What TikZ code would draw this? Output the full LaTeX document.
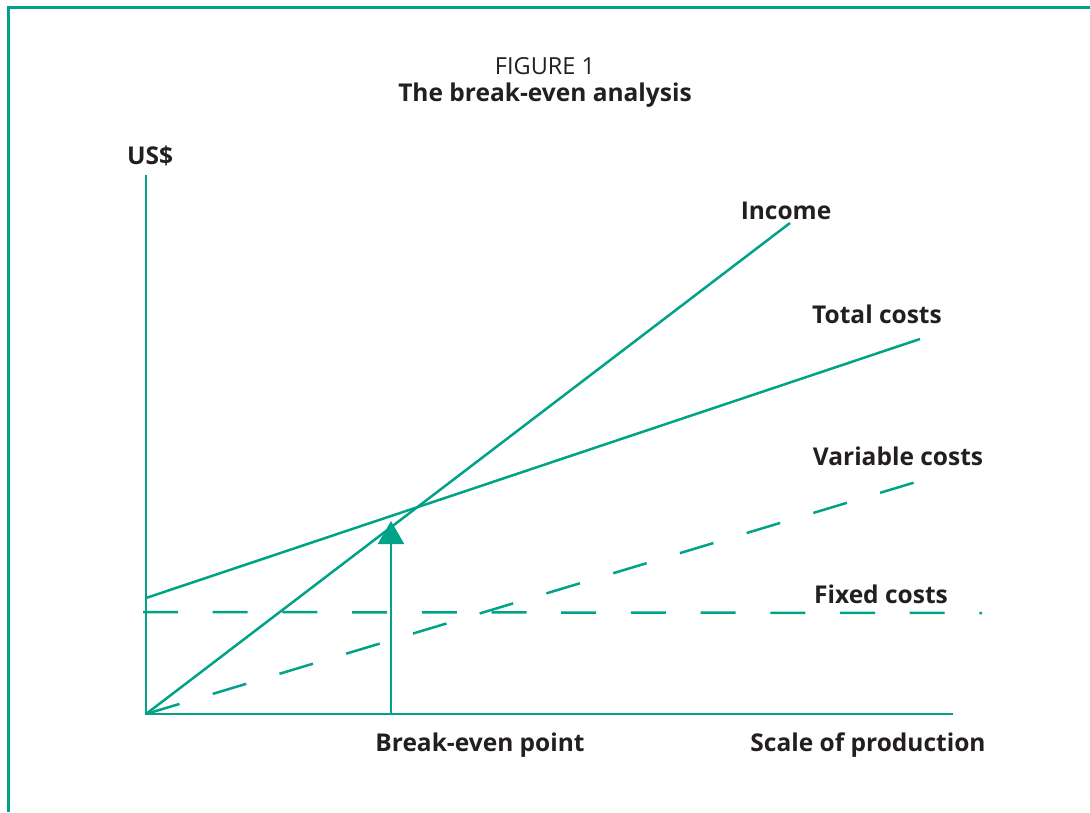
\documentclass[tikz,border=0pt]{standalone}
\usepackage{fontspec}
\setmainfont{Open Sans}
\usetikzlibrary{arrows.meta}
\definecolor{fgreen}{RGB}{0,163,135}
\definecolor{ink}{RGB}{35,31,32}

\begin{document}
\begin{tikzpicture}[x=1pt,y=-1pt,
  ln/.style={draw=fgreen,line width=2.5pt},
  dln/.style={ln,dash pattern=on 35pt off 34.7pt},
  lbl/.style={text=ink,inner sep=0pt,anchor=base,font=\bfseries\fontsize{24.5}{29}\selectfont}]
\useasboundingbox (0,0) rectangle (1090,812);
% frame
\draw[fgreen,line width=3pt] (8,812) -- (8,7) -- (1090,7);
% title
\node[lbl,font=\fontsize{23.5}{28}\selectfont] (fig) at (545,74) {FIGURE 1};
\node[lbl] (title) at (545,101) {The break-even analysis};
% axes
\coordinate (o) at (146,714);
\coordinate (ytop) at (146,175);
\coordinate (xend) at (953,714);
\node[lbl] (us) at (150,164) {US\$};
\draw[ln] (ytop) -- (o) -- (xend);
% lines
\coordinate (inc) at (790,223);
\coordinate (tc0) at (146,598);
\coordinate (tc1) at (920,339);
\coordinate (vc1) at (916,482);
\coordinate (fc0) at (143,612);
\coordinate (fc1) at (982,613);
\draw[ln] (o) -- (inc);
\draw[ln] (tc0) -- (tc1);
\draw[dln] (o) -- (vc1);
\draw[dln] (fc0) -- (fc1);
\node[lbl] (income) at (786,219) {Income};
\node[lbl] (total) at (877,323) {Total costs};
\node[lbl] (var) at (898,465) {Variable costs};
\node[lbl] (fixed) at (881,603) {Fixed costs};
% break-even point
\coordinate (bep) at (391,714);
\coordinate (bept) at (391,521);
\draw[ln,-{Triangle[length=23pt,width=26pt]}] (bep) -- (bept);
\node[lbl] (bepl) at (480,751) {Break-even point};
\node[lbl] (scale) at (868,751) {Scale of production};
\end{tikzpicture}
\end{document}
